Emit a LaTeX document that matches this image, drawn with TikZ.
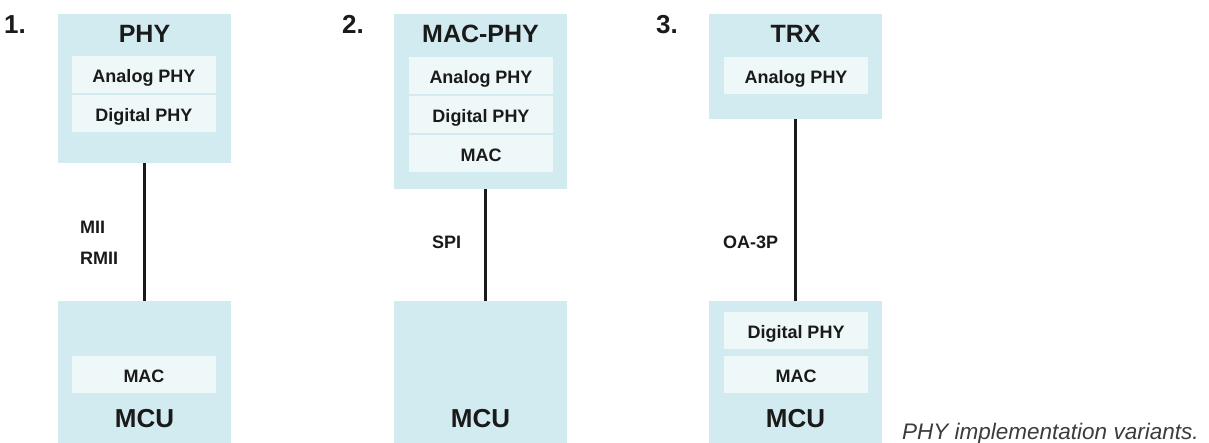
\documentclass[tikz,border=0pt]{standalone}
\usepackage{fontspec}
\setmainfont{Liberation Sans}
\definecolor{chipblue}{HTML}{D2EBF0}
\definecolor{layerblue}{HTML}{EFF8F8}
\definecolor{ink}{HTML}{1A1A1A}
\begin{document}
\begin{tikzpicture}[x=1pt, y=-1pt,
    chip/.style={fill=chipblue, minimum width=173pt, inner sep=0pt},
    layer/.style={fill=layerblue, minimum width=144pt, minimum height=37pt, inner sep=0pt,
        text height=16pt, text depth=0pt, text=ink, font=\bfseries\fontsize{18}{20}\selectfont},
    title/.style={anchor=base, inner sep=0pt, text=ink, font=\bfseries\fontsize{25}{28}\selectfont},
    mcutext/.style={anchor=base, inner sep=0pt, text=ink, font=\bfseries\fontsize{26}{30}\selectfont},
    variant/.style={anchor=base west, inner sep=0pt, text=ink, font=\bfseries\fontsize{26}{30}\selectfont},
    bus/.style={anchor=base west, inner sep=0pt, text=ink, font=\bfseries\fontsize{18}{20}\selectfont},
    link/.style={draw=ink, line width=3.3pt}]
    \fill[white] (0,0) rectangle (1209,443);
    \useasboundingbox (0,0) rectangle (1209,443);

    % variant 1: PHY with MAC in MCU
    \node[variant] (num1) at (4,33.5) {1.};
    \node[chip, minimum height=149pt] (phy1) at (144.5,88.5) {};
    \node[title] (phy1t) at (144.5,43) {PHY};
    \node[layer] (ana1) at (144,74.5) {Analog PHY};
    \node[layer] (dig1) at (144,113.5) {Digital PHY};
    \node[chip, minimum height=142pt] (mcu1) at (144.5,372) {};
    \node[layer] (mac1) at (144,374.5) {MAC};
    \node[mcutext] (mcu1t) at (144.5,427) {MCU};
    \draw[link] (phy1.south) -- (mcu1.north);
    \node[bus] (mii) at (80,234) {MII};
    \node[bus] (rmii) at (80,265) {RMII};

    % variant 2: MAC-PHY over SPI
    \node[variant] (num2) at (342,33.5) {2.};
    \node[chip, minimum height=175pt] (macphy2) at (480.5,101.5) {};
    \node[title] (macphy2t) at (480.5,43) {MAC-PHY};
    \node[layer] (ana2) at (481,75.5) {Analog PHY};
    \node[layer] (dig2) at (481,114.5) {Digital PHY};
    \node[layer] (mac2) at (481,153.5) {MAC};
    \node[chip, minimum height=142pt] (mcu2) at (480.5,372) {};
    \node[mcutext] (mcu2t) at (480.5,427) {MCU};
    \draw[link] ([xshift=5pt]macphy2.south) -- ([xshift=5pt]mcu2.north);
    \node[bus] (spi) at (432,249) {SPI};

    % variant 3: TRX with PHY split
    \node[variant] (num3) at (656,33.5) {3.};
    \node[chip, minimum height=105pt] (trx3) at (795.5,66.5) {};
    \node[title] (trx3t) at (795.5,43) {TRX};
    \node[layer] (ana3) at (796,75.5) {Analog PHY};
    \node[chip, minimum height=142pt] (mcu3) at (795.5,372) {};
    \node[layer] (dig3) at (796,330.5) {Digital PHY};
    \node[layer] (mac3) at (796,374.5) {MAC};
    \node[mcutext] (mcu3t) at (795.5,427) {MCU};
    \draw[link] (trx3.south) -- (mcu3.north);
    \node[bus] (oa3p) at (723,249) {OA-3P};

    \node[anchor=base west, inner sep=0pt, text=ink!85, font=\itshape\fontsize{22.5}{25}\selectfont]
        (caption) at (902,439) {PHY implementation variants.};
\end{tikzpicture}
\end{document}
